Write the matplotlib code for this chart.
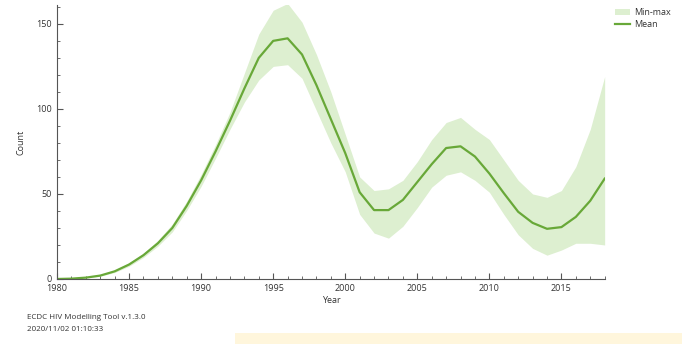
import numpy as np
import matplotlib.pyplot as plt
from matplotlib.patches import Rectangle
from matplotlib.ticker import MultipleLocator

years = np.arange(1980, 2019)
mean = [0, 0.2, 0.8, 2, 4.5, 8.5, 14, 21, 30, 43, 58, 75, 93, 112, 130, 140, 141.5,
        132, 114, 94, 74, 51, 40.5, 40.5, 46.5, 57, 67.5, 77, 78, 72, 62, 50.5, 39.5,
        33, 29.5, 30.5, 36.5, 46, 59]
upper = [0, 0.3, 1.0, 2.4, 5.2, 9.5, 15.3, 22.7, 32.3, 45.7, 61.5, 79, 98, 121, 144, 158, 162,
         151, 132, 110, 85, 60, 52, 53, 58, 69, 82, 92, 95, 88, 82, 70, 58,
         50, 48, 52, 66, 88, 119]
lower = [0, 0.1, 0.6, 1.6, 3.8, 7.5, 12.7, 19.3, 27.7, 40.3, 54.5, 71, 88, 104, 117, 125, 126,
         118, 99, 80, 63, 38, 27, 24, 31, 42, 54, 61, 63, 58, 51, 38, 26,
         18, 14, 17, 21, 21, 20]

plt.rcParams['font.family'] = ['Open Sans', 'DejaVu Sans']

fig = plt.figure(figsize=(6.82, 3.44), dpi=100)
ax = fig.add_axes([0.0836, 0.189, 0.803, 0.796])

band = ax.fill_between(years, lower, upper, color='#ddefd0', lw=0, label='Min-max')
line, = ax.plot(years, mean, color='#68a838', lw=1.6, label='Mean')

ax.set_xlim(1980, 2018)
ax.set_ylim(0, 161)
ax.xaxis.set_major_locator(MultipleLocator(5))
ax.xaxis.set_minor_locator(MultipleLocator(1))
ax.yaxis.set_major_locator(MultipleLocator(50))
ax.yaxis.set_minor_locator(MultipleLocator(10))
ax.tick_params(which='both', direction='in', colors='#555555', labelsize=6.5, labelcolor='#333333')
ax.tick_params(which='major', length=4)
ax.tick_params(which='minor', length=2)
for s in ['top', 'right']:
    ax.spines[s].set_visible(False)
for s in ['left', 'bottom']:
    ax.spines[s].set_color('#555555')
    ax.spines[s].set_linewidth(0.8)

ax.set_xlabel('Year', fontsize=6.5, color='#333333', labelpad=2)
ax.set_ylabel('Count', fontsize=6.5, color='#333333', labelpad=8)

fig.legend(handles=[band, line], labels=['Min-max', 'Mean'], loc='upper left',
           bbox_to_anchor=(0.89, 1.0), frameon=False, fontsize=6.5,
           handlelength=1.6, handletextpad=0.5, labelspacing=0.3, labelcolor='#333333')

fig.text(0.04, 0.078, 'ECDC HIV Modelling Tool v.1.3.0', fontsize=5.8, color='#333333', va='center')
fig.text(0.04, 0.043, '2020/11/02 01:10:33', fontsize=5.8, color='#333333', va='center')

fig.patches.append(Rectangle((0.345, 0.0), 0.655, 0.032, transform=fig.transFigure,
                             facecolor='#fff6dc', edgecolor='none'))

fig.savefig('out.png', dpi=100)
